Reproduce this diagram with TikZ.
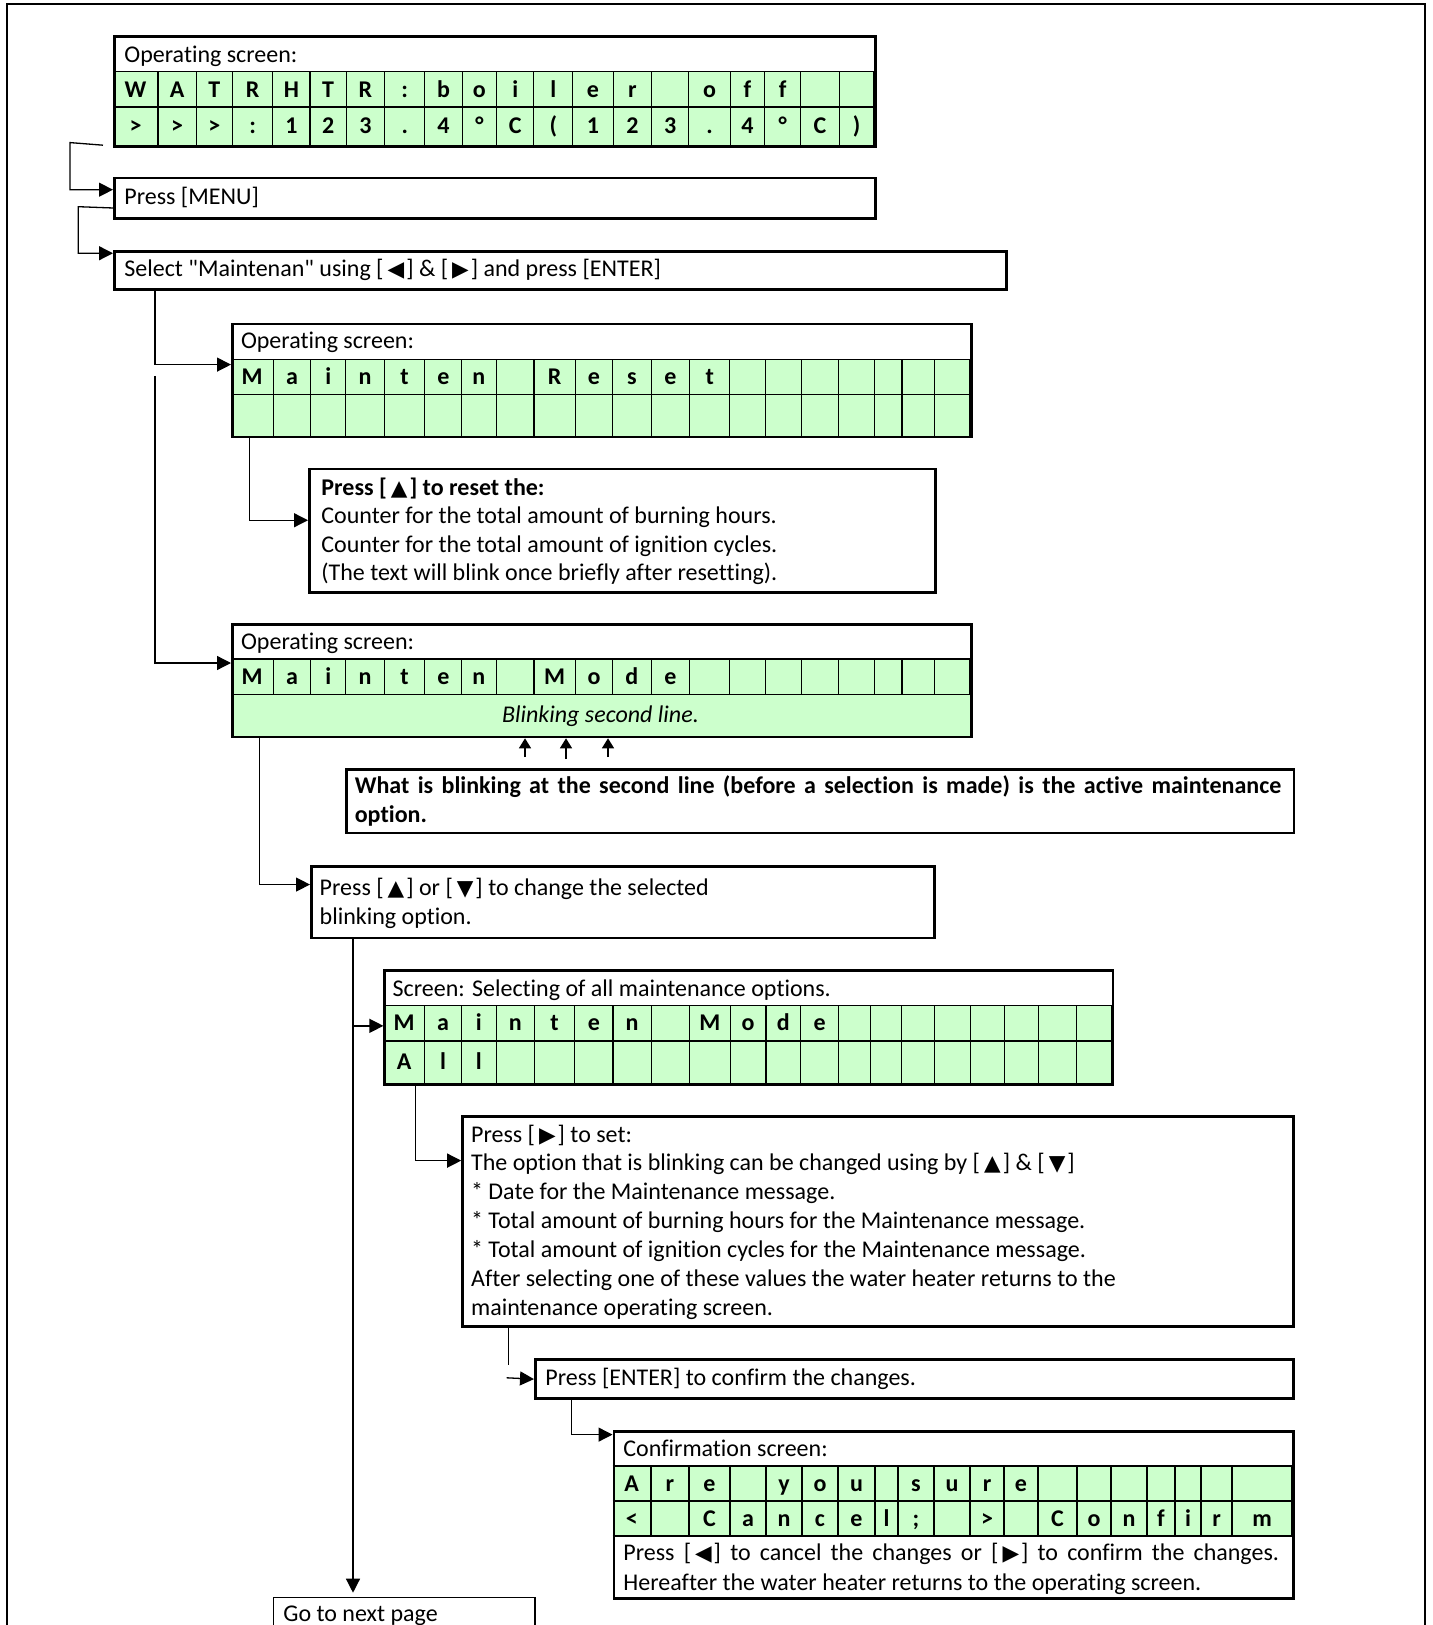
\documentclass[tikz,border=0pt]{standalone}
\usepackage{fontspec}
\setmainfont{Carlito}[Ligatures=NoCommon]
\newfontfamily\symf{DejaVu Sans}
\usetikzlibrary{arrows.meta,calc}
\definecolor{lcd}{HTML}{CCFFCC}
\newcommand\mysym[1]{\hspace{2pt}{\symf\fontsize{10.8}{11}\selectfont #1}\hspace{1pt}}
\tikzset{
  box/.style={draw, line width=1.3pt, inner sep=0pt, anchor=north west},
  cellln/.style={line width=0.55pt},
  rowln/.style={line width=0.75pt},
  conn/.style={line width=0.65pt},
  arr/.style={-{Triangle[length=7pt,width=7pt]}},
  sarr/.style={-{Triangle[length=5pt,width=6pt]}},
  txt/.style={anchor=base west, inner sep=0pt, font=\fontsize{12}{14.5}\selectfont},
  ch/.style={anchor=base, inner sep=0pt, font=\fontsize{12}{14.5}\selectfont\bfseries},
}
\begin{document}
\begin{tikzpicture}[x=0.5pt,y=-0.5pt]
\useasboundingbox (0,0) rectangle (1432,1625);
\draw[line width=1pt] (6.7,1640) -- (6.7,4) -- (1424.5,4) -- (1424.5,1640);

% ---------------- B1 : first operating screen
\fill[lcd] (113,71.7) rectangle (874,145);
\draw[rowln] (113,71.7) -- (874,71.7) (113,107) -- (874,107);
\foreach \xa/\xb/\c [count=\k] in {113/158/W,158/196.3/A,196.3/232.5/T,232.5/272.7/R,272.7/310/H,310/346.2/T,346.2/384.6/R,384.6/424.8/{:},424.8/462.1/b,462.1/496.6/o,496.6/533.9/i,533.9/572.9/l,572.9/613.1/e,613.1/651.6/r,651.6/688.9/{},688.9/730.2/o,730.2/764.6/f,764.6/800.8/f,800.8/839.3/{},839.3/874/{}}{
  \draw[cellln] (\xb,71.7) -- (\xb,107);
  \node[ch] (s1b\k) at ({(\xa+\xb)/2},97.5) {\c};
}
\foreach \xa/\xb/\c [count=\k] in {113/158/{>},158/196.3/{>},196.3/232.5/{>},232.5/272.7/{:},272.7/310/1,310/346.2/2,346.2/384.6/3,384.6/424.8/{.},424.8/462.1/4,462.1/496.6/{°},496.6/533.9/C,533.9/572.9/{(},572.9/613.1/1,613.1/651.6/2,651.6/688.9/3,688.9/730.2/{.},730.2/764.6/4,764.6/800.8/{°},800.8/839.3/C,839.3/874/{)}}{
  \draw[cellln] (\xb,107) -- (\xb,145);
  \node[ch] (s1c\k) at ({(\xa+\xb)/2},133.5) {\c};
}
\node[box, minimum width=380.5pt, minimum height=55pt] (B1) at (113,35) {};
\node[txt] (t1) at (124,62.5) {Operating screen:};

% ---------------- B2 : Press MENU
\node[box, minimum width=380.5pt, minimum height=20.3pt] (B2) at (113,176.7) {};
\node[txt] (t2) at (124,205) {Press [MENU]};

% ---------------- B3 : Select
\node[box, minimum width=446pt, minimum height=19.15pt] (B3) at (113,250) {};
\node[txt] (t3) at (124,277) {Select \textquotedbl Maintenan\textquotedbl{} using [\mysym{◀}] \& [\mysym{▶}] and press [ENTER]};

% ---------------- B4 : Mainten Reset screen
\fill[lcd] (231,359.3) rectangle (970,435.7);
\draw[rowln] (231,359.3) -- (970,359.3) (231,394.3) -- (970,394.3);
\foreach \xa/\xb/\c [count=\k] in {231/273.4/M,273.4/310.7/a,310.7/345.7/i,345.7/384.2/n,384.2/424.9/t,424.9/461.7/e,461.7/496.1/n,496.1/534/{},534/575.3/R,575.3/612.6/e,612.6/651.1/s,651.1/689.6/e,689.6/729.7/t,729.7/765.9/{},765.9/801.5/{},801.5/838.8/{},838.8/874.4/{},874.4/902/{},902/934.1/{},934.1/970/{}}{
  \draw[cellln] (\xb,359.3) -- (\xb,435.7);
  \node[ch] (s4b\k) at ({(\xa+\xb)/2},384.3) {\c};
}
\node[box, minimum width=369.5pt, minimum height=56.5pt] (B4) at (231,322.7) {};
\node[txt] (t4) at (240.6,349) {Operating screen:};

% ---------------- B5 : Press up to reset
\node[box, minimum width=313pt, minimum height=61.65pt] (B5) at (308,467.7) {};
\node[txt,font=\fontsize{12}{14.5}\selectfont\bfseries] (t5a) at (321,495) {Press [\mysym{▲}] to reset the:};
\node[txt] (t5b) at (321,523.7) {Counter for the total amount of burning hours.};
\node[txt] (t5c) at (321,552.3) {Counter for the total amount of ignition cycles.};
\node[txt] (t5d) at (321,581) {(The text will blink once briefly after resetting).};

% ---------------- B6 : Mainten Mode screen
\fill[lcd] (231,659) rectangle (970,735.7);
\draw[rowln] (231,659) -- (970,659) (231,694.3) -- (970,694.3);
\foreach \xa/\xb/\c [count=\k] in {231/273.4/M,273.4/310.7/a,310.7/345.7/i,345.7/384.2/n,384.2/424.9/t,424.9/461.7/e,461.7/496.1/n,496.1/534/{},534/575.3/M,575.3/612.6/o,612.6/651.1/d,651.1/689.6/e,689.6/729.7/{},729.7/765.9/{},765.9/801.5/{},801.5/838.8/{},838.8/874.4/{},874.4/902/{},902/934.1/{},934.1/970/{}}{
  \draw[cellln] (\xb,659) -- (\xb,694.3);
  \node[ch] (s6b\k) at ({(\xa+\xb)/2},684.2) {\c};
}
\node[box, minimum width=369.5pt, minimum height=56.2pt] (B6) at (231,623.3) {};
\node[txt] (t6) at (240.7,649.5) {Operating screen:};
\node[anchor=base, inner sep=0pt, font=\fontsize{12}{14.5}\selectfont\itshape] (t6b) at (600.5,722.5) {Blinking second line.};

% ---------------- B7 : What is blinking
\node[box, minimum width=473.65pt, minimum height=31.7pt] (B7) at (345.3,768.3) {};
\node[txt,font=\fontsize{12}{14.5}\selectfont\bfseries] (t7a) at (354.4,793.3) {\makebox[463.2pt][s]{What is blinking at the second line (before a selection is made) is the active maintenance}};
\node[txt,font=\fontsize{12}{14.5}\selectfont\bfseries] (t7b) at (354.4,822.7) {option.};

% ---------------- B8 : Press up or down
\node[box, minimum width=311.65pt, minimum height=35.85pt] (B8) at (310,865) {};
\node[txt] (t8a) at (319.3,895) {Press [\mysym{▲}] or [\mysym{▼}] to change the selected};
\node[txt] (t8b) at (319.3,924) {blinking option.};

% ---------------- B9 : Selecting screen
\fill[lcd] (383.4,1005.7) rectangle (1111.7,1083.3);
\draw[rowln] (383.4,1005.7) -- (1111.7,1005.7) (383.4,1041) -- (1111.7,1041);
\foreach \xa/\xb/\c [count=\k] in {383.4/424.8/M,424.8/461.2/a,461.2/496.2/i,496.2/534.5/n,534.5/574.7/t,574.7/613/e,613/651.2/n,651.2/689.5/{},689.5/730.3/M,730.3/766/o,766/800.5/d,800.5/838.7/e,838.7/870.6/{},870.6/901.2/{},901.2/934.4/{},934.4/970.1/{},970.1/1004.6/{},1004.6/1038.3/{},1038.3/1076.6/{},1076.6/1111.7/{}}{
  \draw[cellln] (\xb,1005.7) -- (\xb,1041);
  \node[ch] (s9b\k) at ({(\xa+\xb)/2},1030.9) {\c};
}
\foreach \xa/\xb/\c [count=\k] in {383.4/424.8/A,424.8/461.2/l,461.2/496.2/l,496.2/534.5/{},534.5/574.7/{},574.7/613/{},613/651.2/{},651.2/689.5/{},689.5/730.3/{},730.3/766/{},766/800.5/{},800.5/838.7/{},838.7/870.6/{},870.6/901.2/{},901.2/934.4/{},934.4/970.1/{},970.1/1004.6/{},1004.6/1038.3/{},1038.3/1076.6/{},1076.6/1111.7/{}}{
  \draw[cellln] (\xb,1041) -- (\xb,1083.3);
  \node[ch] (s9c\k) at ({(\xa+\xb)/2},1069.7) {\c};
}
\node[box, minimum width=364.15pt, minimum height=57.15pt] (B9) at (383.4,969) {};
\node[txt] (t9) at (392.3,996.5) {Screen: Selecting of all maintenance options.};

% ---------------- B10 : Press right to set
\node[box, minimum width=415.4pt, minimum height=105pt] (B10) at (461.2,1115) {};
\node[txt] (t10a) at (470.7,1142) {Press [\mysym{▶}] to set:};
\node[txt] (t10b) at (470.7,1170.9) {The option that is blinking can be changed using by [\mysym{▲}] \& [\mysym{▼}]};
\node[txt] (t10c) at (470.7,1199.8) {* Date for the Maintenance message.};
\node[txt] (t10d) at (470.7,1228.7) {* Total amount of burning hours for the Maintenance message.};
\node[txt] (t10e) at (470.7,1257.6) {* Total amount of ignition cycles for the Maintenance message.};
\node[txt] (t10f) at (470.7,1286.5) {After selecting one of these values the water heater returns to the};
\node[txt] (t10g) at (470.7,1315.4) {maintenance operating screen.};

% ---------------- B11 : Press ENTER
\node[box, minimum width=379pt, minimum height=19.5pt] (B11) at (534,1358.3) {};
\node[txt] (t11) at (545,1385.3) {Press [ENTER] to confirm the changes.};

% ---------------- B12 : Confirmation screen
\fill[lcd] (612.5,1466) rectangle (1292,1536);
\draw[rowln] (612.5,1466) -- (1292,1466) (612.5,1501) -- (1292,1501) (612.5,1536) -- (1292,1536);
\foreach \xa/\xb/\c [count=\k] in {612.5/651/A,651/689/r,689/730/e,730/766/{},766/802/y,802/838/o,838/875/u,875/898/{},898/934/s,934/970/u,970/1004/r,1004/1038/e,1038/1077/{},1077/1111/{},1111/1147/{},1147/1175/{},1175/1201/{},1201/1232/{},1232/1292/{}}{
  \draw[cellln] (\xb,1466) -- (\xb,1501);
  \node[ch] (s12b\k) at ({(\xa+\xb)/2},1491) {\c};
}
\foreach \xa/\xb/\c [count=\k] in {612.5/651/{<},651/689/{},689/730/C,730/766/a,766/802/n,802/838/c,838/875/e,875/898/l,898/934/{;},934/970/{},970/1004/{>},1004/1038/{},1038/1077/C,1077/1111/o,1111/1147/n,1147/1175/f,1175/1201/i,1201/1232/r,1232/1292/m}{
  \draw[cellln] (\xb,1501) -- (\xb,1536);
  \node[ch] (s12c\k) at ({(\xa+\xb)/2},1526) {\c};
}
\node[box, minimum width=339.75pt, minimum height=83.5pt] (B12) at (612.5,1430) {};
\node[txt] (t12a) at (623,1456.7) {Confirmation screen:};
\node[txt] (t12b) at (623,1560) {\makebox[327.8pt][s]{Press [\mysym{◀}] to cancel the changes or [\mysym{▶}] to confirm the changes.}};
\node[txt] (t12c) at (623,1590) {Hereafter the water heater returns to the operating screen.};

% ---------------- B13 : Go to next page
\node[box, line width=0.75pt, minimum width=130.75pt, minimum height=30pt] (B13) at (272.5,1596.7) {};
\node[txt] (t13) at (283,1621) {Go to next page};

% ---------------- connectors
\draw[conn,arr] ([xshift=-5pt,yshift=1.2pt]B1.south west) -- (70,142.6) |- ([yshift=4.3pt]B2.west);
\draw[conn,arr] ([yshift=-4.85pt]B2.west) -- (78.3,206.7) |- ([yshift=8.6pt]B3.west);
\draw[conn,arr] ([xshift=21pt]B3.south west) |- ([yshift=7.95pt]B4.west);
\coordinate (c4) at (155,376);
\draw[conn,arr] (c4) |- ([yshift=8.9pt]B6.west);
\draw[conn,arr] ([xshift=9.15pt]B4.south west) |- ([yshift=5.2pt]B5.west);
\coordinate (u1) at (525,757);
\coordinate (u2) at (566,759);
\coordinate (u3) at (608,757);
\draw[conn,sarr] (u1) -- (u1 |- B6.south);
\draw[conn,sarr] (u2) -- (u2 |- B6.south);
\draw[conn,sarr] (u3) -- (u3 |- B6.south);
\draw[conn,arr] ([xshift=14.3pt]B6.south west) |- ([yshift=8.8pt]B8.west);
\coordinate (c8) at ([xshift=21.5pt]B8.south west);
\draw[conn,arr,shorten >=2pt] (c8) -- (c8 |- B13.north);
\draw[conn,arr] ([yshift=0.8pt]c8 |- B9.west) -- ([yshift=0.8pt]B9.west);
\draw[conn,arr] ([xshift=15.95pt]B9.south west) |- ([yshift=30.35pt]B10.west);
\coordinate (c11e) at (508.3,1365);
\draw[conn] ([xshift=23.55pt]B10.south west) -- (c11e);
\coordinate (c11s) at (506.7,1377.8);
\draw[conn,arr] (c11s) -- (B11.west);
\draw[conn,arr] ([xshift=18.85pt]B11.south west) |- ([yshift=40.1pt]B12.west);
\end{tikzpicture}
\end{document}
